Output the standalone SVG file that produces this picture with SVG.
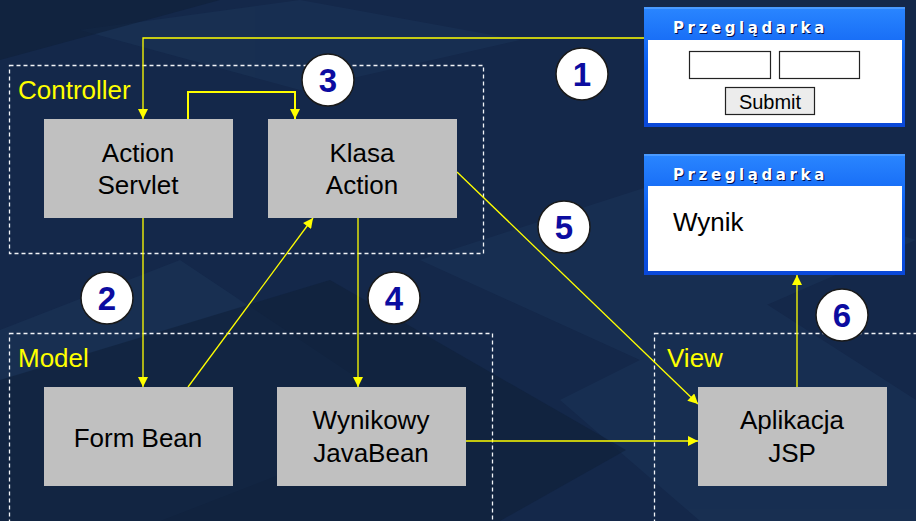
<svg xmlns="http://www.w3.org/2000/svg" width="916" height="521" viewBox="0 0 916 521">
<defs>
<marker id="arr" viewBox="0 0 10 10" refX="10" refY="5" markerWidth="11" markerHeight="10" markerUnits="userSpaceOnUse" orient="auto">
<path d="M0,0 L10,5 L0,10 z" fill="#ffff00"/>
</marker>
<linearGradient id="bar" x1="0" y1="0" x2="0" y2="1">
<stop offset="0" stop-color="#2a86ff"/>
<stop offset="0.5" stop-color="#0a5cf0"/>
<stop offset="1" stop-color="#0a48d8"/>
</linearGradient>
<style>
.zone{fill:none;stroke:#f2f4f8;stroke-width:1.3;stroke-dasharray:4,3}
.zl{font-family:"Liberation Sans",Arial,sans-serif;font-size:26px;fill:#ffff00}
.box{fill:#c0c0c0}
.bt{font-family:"Liberation Sans",Arial,sans-serif;font-size:26px;fill:#000;text-anchor:middle}
.conn{fill:none;stroke:#ffff00;stroke-width:1.3}
.num circle{fill:#fff;stroke:#1a1a1a;stroke-width:1.5}
.num text{font-family:"Liberation Sans",Arial,sans-serif;font-size:33px;font-weight:bold;fill:#0c0ca0;text-anchor:middle}
.ttl{font-family:"DejaVu Sans",sans-serif;font-size:15px;font-weight:bold;fill:#fff;letter-spacing:3.6px}
.tsh{font-family:"DejaVu Sans",sans-serif;font-size:15px;font-weight:bold;fill:#001050;letter-spacing:3.6px}
</style>
</defs>
<rect width="916" height="521" fill="#14284a"/>
<g fill="#1b3458" opacity="0.55">
<polygon points="80,30 300,0 520,40 300,90"/>
<polygon points="0,330 180,260 420,420 160,521 0,521"/>
<polygon points="420,260 700,170 916,240 640,360"/>
<polygon points="560,400 760,300 916,400 916,521 700,521"/>
</g>
<g fill="#0f2038" opacity="0.6">
<polygon points="0,0 220,0 0,60"/>
<polygon points="0,380 330,280 626,450 500,521 0,521"/>
</g>

<g id="controller">
<rect class="zone" x="9.5" y="65.5" width="474" height="188"/>
<text class="zl" x="18" y="99">Controller</text>
</g>
<g id="model">
<rect class="zone" x="9.5" y="333.5" width="483" height="200"/>
<text class="zl" x="18" y="367">Model</text>
</g>
<g id="view">
<rect class="zone" x="654.5" y="333.5" width="280" height="200"/>
<text class="zl" x="667" y="367">View</text>
</g>

<g id="connectors">
<polyline class="conn" points="645,38 143,38 143,119" marker-end="url(#arr)"/>
<polyline class="conn" style="stroke-width:2" points="188,119 188,92 295,92 295,119" marker-end="url(#arr)"/>
<line class="conn" x1="143" y1="218" x2="143" y2="387" marker-end="url(#arr)"/>
<line class="conn" x1="188" y1="387" x2="313" y2="218" marker-end="url(#arr)"/>
<line class="conn" x1="358" y1="218" x2="358" y2="387" marker-end="url(#arr)"/>
<line class="conn" x1="457" y1="172" x2="698" y2="404" marker-end="url(#arr)"/>
<line class="conn" x1="466" y1="441" x2="698" y2="441" marker-end="url(#arr)"/>
<line class="conn" x1="797" y1="387" x2="797" y2="275" marker-end="url(#arr)"/>
</g>

<g id="action-servlet">
<rect class="box" x="44" y="119" width="189" height="99"/>
<text class="bt" x="138" y="162">Action</text>
<text class="bt" x="138" y="194">Servlet</text>
</g>
<g id="klasa-action">
<rect class="box" x="268" y="119" width="189" height="99"/>
<text class="bt" x="362" y="162">Klasa</text>
<text class="bt" x="362" y="194">Action</text>
</g>
<g id="form-bean">
<rect class="box" x="44" y="387" width="189" height="99"/>
<text class="bt" x="138" y="447">Form Bean</text>
</g>
<g id="wynikowy">
<rect class="box" x="277" y="387" width="189" height="99"/>
<text class="bt" x="371" y="429">Wynikowy</text>
<text class="bt" x="371" y="462">JavaBean</text>
</g>
<g id="aplikacja-jsp">
<rect class="box" x="698" y="387" width="189" height="99"/>
<text class="bt" x="792" y="429">Aplikacja</text>
<text class="bt" x="792" y="462">JSP</text>
</g>

<g id="browser1">
<rect x="644" y="7" width="261" height="120" fill="url(#bar)"/>
<rect x="644" y="7" width="261" height="2" fill="#4a9aff"/>
<rect x="648" y="40" width="254" height="83" fill="#fff"/>
<text class="tsh" x="674" y="34">Przeglądarka</text>
<text class="ttl" x="673" y="33">Przeglądarka</text>
<rect x="689.5" y="51.5" width="81" height="27" fill="#fff" stroke="#222" stroke-width="1.2"/>
<rect x="779.5" y="51.5" width="80" height="27" fill="#fff" stroke="#222" stroke-width="1.2"/>
<rect x="725.5" y="87.5" width="89" height="27" fill="#ececec" stroke="#222" stroke-width="1.2"/>
<text x="770" y="109" font-family="Liberation Sans,Arial,sans-serif" font-size="20" text-anchor="middle" fill="#000">Submit</text>
</g>
<g id="browser2">
<rect x="644" y="154" width="261" height="121" fill="url(#bar)"/>
<rect x="644" y="154" width="261" height="2" fill="#4a9aff"/>
<rect x="648" y="186" width="254" height="85" fill="#fff"/>
<text class="tsh" x="674" y="181">Przeglądarka</text>
<text class="ttl" x="673" y="180">Przeglądarka</text>
<text x="673" y="231" font-family="Liberation Sans,Arial,sans-serif" font-size="26" fill="#000">Wynik</text>
</g>

<g id="n1" class="num"><circle cx="582" cy="74" r="26"/><text x="582" y="86">1</text></g>
<g id="n2" class="num"><circle cx="107" cy="298" r="26"/><text x="107" y="310">2</text></g>
<g id="n3" class="num"><circle cx="328" cy="80" r="26"/><text x="328" y="92">3</text></g>
<g id="n4" class="num"><circle cx="394" cy="298" r="26"/><text x="394" y="310">4</text></g>
<g id="n5" class="num"><circle cx="564" cy="227" r="26"/><text x="564" y="239">5</text></g>
<g id="n6" class="num"><circle cx="842" cy="315" r="26"/><text x="842" y="327">6</text></g>
</svg>
